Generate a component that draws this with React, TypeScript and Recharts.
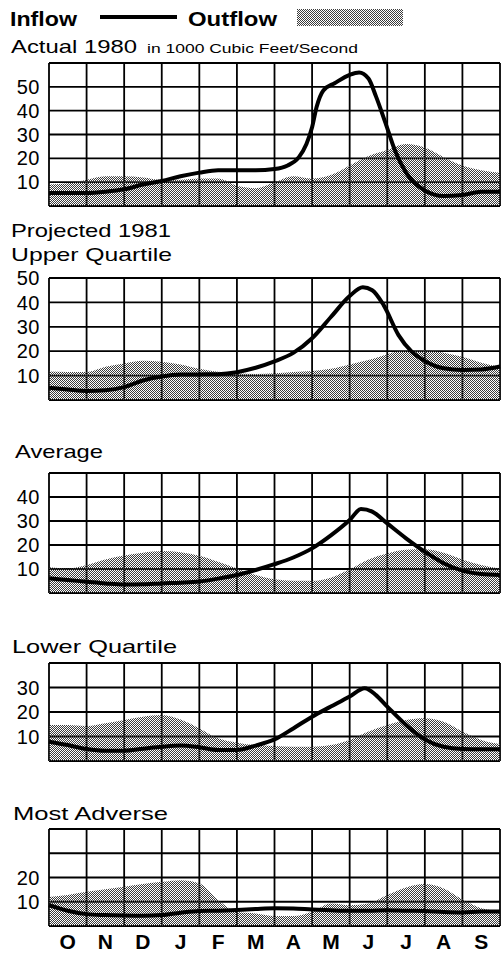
import { Area, CartesianGrid, ComposedChart, Line, XAxis, YAxis } from 'recharts';

const FONT = '"Liberation Sans", Arial, Helvetica, sans-serif';

const monthLabels = ['O', 'N', 'D', 'J', 'F', 'M', 'A', 'M', 'J', 'J', 'A', 'S'];
const monthEdges = [0, 1, 2, 3, 4, 5, 6, 7, 8, 9, 10, 11, 12];
const monthCentres = [0.5, 1.5, 2.5, 3.5, 4.5, 5.5, 6.5, 7.5, 8.5, 9.5, 10.5, 11.5];

// [month position, 1000 cfs]
type Pt = [number, number];

const actualInflow: Pt[] = [
  [0, 5.5], [0.5, 5.5], [1, 5.5], [1.5, 6], [2, 7], [2.5, 9], [3, 10.5], [3.5, 12.5],
  [4, 14], [4.5, 15], [5, 15], [5.5, 15], [6, 15.5], [6.35, 17], [6.65, 20.5], [6.85, 26],
  [7, 33], [7.12, 41.5], [7.3, 48.5], [7.6, 51.5], [8, 55], [8.25, 56], [8.5, 53.5],
  [8.7, 46], [8.95, 35], [9.2, 23.5], [9.5, 14], [10, 6.5], [10.5, 4.2], [11, 4.6],
  [11.5, 6], [12, 6],
];
const actualOutflow: Pt[] = [
  [0, 9], [0.5, 9.5], [1, 11], [1.5, 12.5], [2, 12.5], [2.5, 12], [3, 11], [3.5, 11],
  [4, 11.5], [4.5, 11.5], [5, 8.5], [5.5, 7.5], [6, 10], [6.5, 12.5], [7, 11.5], [7.5, 13],
  [8, 17], [8.5, 21], [9, 23.5], [9.5, 26], [10, 24.5], [10.5, 20.5], [11, 17], [11.5, 15],
  [12, 14],
];

const upperInflow: Pt[] = [
  [0, 5], [0.5, 4.3], [1, 3.7], [1.5, 4], [2, 5.3], [2.5, 8], [3, 9.6], [3.5, 10.4],
  [4, 10.5], [4.5, 10.6], [5, 11.4], [5.5, 13.2], [6, 15.8], [6.5, 19.3], [7, 25.3],
  [7.5, 34], [8, 42.6], [8.35, 46.2], [8.6, 45], [8.9, 39], [9.3, 26.6], [9.65, 19.8],
  [10, 16], [10.5, 13], [11, 12.3], [11.5, 12.5], [12, 13.7],
];
const upperOutflow: Pt[] = [
  [0, 11.7], [0.5, 11.5], [1, 11.5], [1.5, 13.6], [2, 15], [2.5, 16.1], [3, 15.7],
  [3.5, 14.6], [4, 12.8], [4.5, 11.6], [5, 11], [5.5, 10.7], [6, 11], [6.5, 11.5],
  [7, 11.9], [7.5, 12.8], [8, 14.6], [8.5, 16.4], [9, 18.8], [9.5, 20.5], [10, 20.5],
  [10.5, 19.4], [11, 17.7], [11.5, 15.3], [12, 13.7],
];

const averageInflow: Pt[] = [
  [0, 6.1], [0.5, 5.4], [1, 4.7], [1.5, 4], [2, 3.5], [2.5, 3.6], [3, 4], [3.5, 4.3],
  [4, 4.8], [4.5, 6], [5, 7.5], [5.5, 9.6], [6, 12], [6.5, 14.8], [7, 18.6], [7.5, 24],
  [8, 30.4], [8.3, 35], [8.6, 33.9], [9, 29], [9.5, 22.8], [10, 17.2], [10.5, 12.4],
  [11, 9.3], [11.5, 7.9], [12, 7.5],
];
const averageOutflow: Pt[] = [
  [0, 10.7], [0.5, 10.2], [1, 11.7], [1.5, 14], [2, 15.6], [2.5, 16.8], [3, 17.5],
  [3.5, 17], [4, 15.5], [4.5, 13], [5, 10.2], [5.5, 7.5], [6, 5.7], [6.5, 5.1], [7, 5.1],
  [7.5, 6.4], [8, 9.9], [8.5, 14], [9, 16.5], [9.5, 18], [10, 18.2], [10.5, 16.8],
  [11, 14], [11.5, 11.7], [12, 10.2],
];

const lowerInflow: Pt[] = [
  [0, 7.9], [0.5, 6.5], [1, 4.9], [1.5, 4.2], [2, 4.2], [2.5, 5], [3, 5.8], [3.5, 6.3],
  [4, 5.6], [4.5, 4.5], [5, 4.5], [5.5, 6.3], [6, 8.8], [6.5, 13.3], [7, 18.1], [7.5, 22.2],
  [8, 26.3], [8.4, 29.7], [8.7, 26.9], [9, 22.2], [9.5, 14.7], [10, 8.8], [10.5, 5.8],
  [11, 4.9], [11.5, 4.8], [12, 4.8],
];
const lowerOutflow: Pt[] = [
  [0, 14.7], [0.5, 14.7], [1, 14.3], [1.5, 15.4], [2, 16.7], [2.5, 18.1], [3, 18.8],
  [3.5, 16.9], [4, 13.3], [4.5, 9.3], [5, 7.5], [5.5, 6.5], [6, 6.1], [6.5, 5.8], [7, 5.8],
  [7.5, 6.5], [8, 8.6], [8.5, 12], [9, 14.7], [9.5, 16.7], [10, 17.4], [10.5, 16],
  [11, 12], [11.5, 8.6], [12, 6.9],
];

const adverseInflow: Pt[] = [
  [0, 8.6], [0.5, 6.3], [1, 4.9], [1.5, 4.5], [2, 4.3], [2.5, 4.2], [3, 4.5], [3.5, 5.5],
  [4, 6.2], [4.5, 6.3], [5, 6.6], [5.5, 7], [6, 7.3], [6.5, 7.2], [7, 6.8], [7.5, 6.5],
  [8, 6.3], [8.5, 6.3], [9, 6.5], [9.5, 6.3], [10, 6.2], [10.5, 5.8], [11, 5.6],
  [11.5, 6], [12, 6],
];
const adverseOutflow: Pt[] = [
  [0, 12], [0.5, 12.8], [1, 14.1], [1.5, 15.2], [2, 16.2], [2.5, 17.3], [3, 18.2],
  [3.5, 18.9], [4, 17.6], [4.5, 10.7], [5, 5.9], [5.5, 5.2], [6, 4.1], [6.5, 4.1],
  [7, 5.9], [7.5, 9.3], [8, 8.6], [8.5, 9.3], [9, 12.8], [9.5, 15.9], [10, 17.3],
  [10.5, 15.5], [11, 11], [11.5, 7.3], [12, 6.2],
];

const rows = (pts: Pt[]) => pts.map(([m, v]) => ({ m, v }));

function Halftone({ id }: { id: string }) {
  return (
    <defs>
      <pattern id={id} width="2" height="2" patternUnits="userSpaceOnUse">
        <rect x="0" y="0" width="1" height="1" fill="#3c3c3c" />
        <rect x="1" y="1" width="1" height="1" fill="#3c3c3c" />
      </pattern>
    </defs>
  );
}

interface PanelProps {
  id: string;
  top: number;
  plotHeight: number;
  yMax: number;
  yLabels: number[];
  inflow: Pt[];
  outflow: Pt[];
  months?: boolean;
}

function Panel({ id, top, plotHeight, yMax, yLabels, inflow, outflow, months }: PanelProps) {
  const mTop = 12;
  const axisH = months ? 26 : 1;
  const mBottom = 2;
  const yTicks: number[] = [];
  for (let v = 0; v <= yMax; v += 10) yTicks.push(v);

  return (
    <div style={{ position: 'absolute', left: 0, top: top - mTop }}>
      <ComposedChart
        width={501}
        height={plotHeight + mTop + mBottom + axisH}
        data={rows(outflow)}
        margin={{ top: mTop, right: 1, bottom: mBottom, left: 0 }}
      >
        <Halftone id={id} />
        <XAxis
          dataKey="m"
          type="number"
          domain={[0, 12]}
          ticks={months ? monthCentres : monthEdges}
          interval={0}
          height={axisH}
          axisLine={false}
          tickLine={false}
          tickSize={0}
          tickMargin={8}
          tickFormatter={(v: number) => (months ? monthLabels[Math.floor(v)] : '')}
          tick={{ fontFamily: FONT, fontSize: 21, fontWeight: 'bold', fill: '#000' }}
        />
        <YAxis
          type="number"
          domain={[0, yMax]}
          ticks={yTicks}
          interval={0}
          width={49}
          axisLine={false}
          tickLine={false}
          tickSize={0}
          tickMargin={9}
          tickFormatter={(v: number) => (yLabels.includes(v) ? String(v) : '')}
          tick={{ fontFamily: FONT, fontSize: 20, fill: '#000', letterSpacing: 0.5 }}
        />
        <Area
          dataKey="v"
          type="monotone"
          fill={`url(#${id})`}
          fillOpacity={1}
          stroke="none"
          isAnimationActive={false}
        />
        <CartesianGrid stroke="#000" strokeWidth={1.8} vertical={false} />
        <CartesianGrid
          stroke="#000"
          strokeWidth={1.8}
          horizontal={false}
          verticalValues={monthEdges}
        />
        <Line
          data={rows(inflow)}
          dataKey="v"
          type="monotone"
          stroke="#000"
          strokeWidth={4}
          dot={false}
          isAnimationActive={false}
        />
      </ComposedChart>
    </div>
  );
}

export default function App() {
  return (
    <div style={{ position: 'absolute', left: 0, top: 0, width: 501, height: 954, background: '#fff', fontFamily: FONT }}>
      <svg width={501} height={954} style={{ position: 'absolute', left: 0, top: 0 }}>
        <Halftone id="legendTone" />
        <text x={10} y={26} fontSize={21} fontWeight="bold" textLength={67} lengthAdjust="spacingAndGlyphs">Inflow</text>
        <line x1={100} x2={177} y1={17} y2={17} stroke="#000" strokeWidth={4} />
        <text x={188} y={26} fontSize={21} fontWeight="bold" textLength={89} lengthAdjust="spacingAndGlyphs">Outflow</text>
        <rect x={297} y={9} width={106} height={17} fill="url(#legendTone)" />
        <text x={11} y={53} fontSize={19} textLength={126} lengthAdjust="spacingAndGlyphs">Actual 1980</text>
        <text x={147} y={53} fontSize={12.5} textLength={211} lengthAdjust="spacingAndGlyphs">in 1000 Cubic Feet/Second</text>
        <text x={11} y={237} fontSize={19} textLength={160} lengthAdjust="spacingAndGlyphs">Projected 1981</text>
        <text x={11} y={261} fontSize={19} textLength={161} lengthAdjust="spacingAndGlyphs">Upper Quartile</text>
        <text x={15} y={458} fontSize={19} textLength={88} lengthAdjust="spacingAndGlyphs">Average</text>
        <text x={12} y={653} fontSize={19} textLength={165} lengthAdjust="spacingAndGlyphs">Lower Quartile</text>
        <text x={13} y={820} fontSize={19} textLength={155} lengthAdjust="spacingAndGlyphs">Most Adverse</text>
      </svg>
      <Panel id="tone1" top={63} plotHeight={143} yMax={60} yLabels={[10, 20, 30, 40, 50]} inflow={actualInflow} outflow={actualOutflow} />
      <Panel id="tone2" top={278} plotHeight={122} yMax={50} yLabels={[10, 20, 30, 40, 50]} inflow={upperInflow} outflow={upperOutflow} />
      <Panel id="tone3" top={473} plotHeight={120} yMax={50} yLabels={[10, 20, 30, 40]} inflow={averageInflow} outflow={averageOutflow} />
      <Panel id="tone4" top={663} plotHeight={98} yMax={40} yLabels={[10, 20, 30]} inflow={lowerInflow} outflow={lowerOutflow} />
      <Panel id="tone5" top={829} plotHeight={97} yMax={40} yLabels={[10, 20]} inflow={adverseInflow} outflow={adverseOutflow} months />
    </div>
  );
}
